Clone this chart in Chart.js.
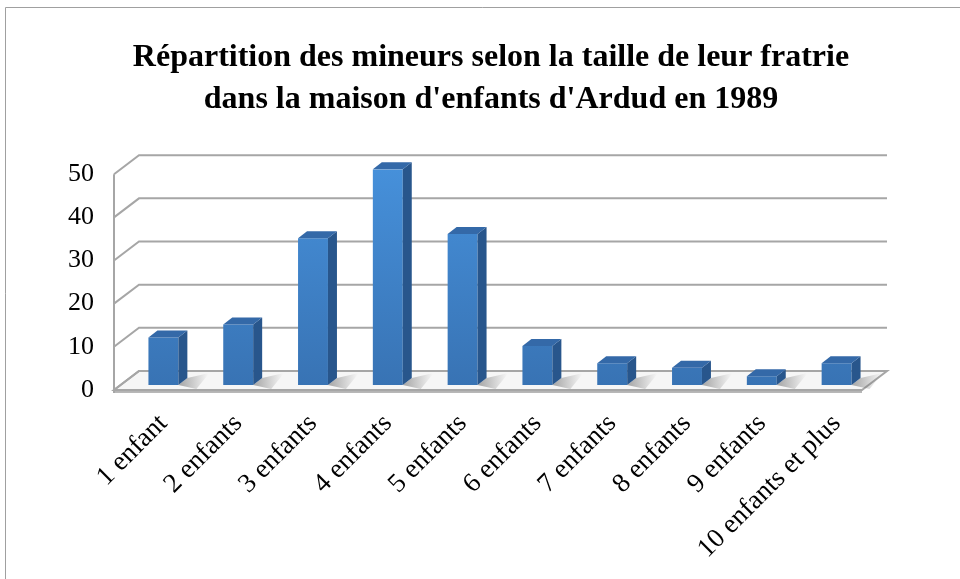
<!DOCTYPE html>
<html>
<head>
<meta charset="utf-8">
<script src="https://cdn.jsdelivr.net/npm/chart.js@4/dist/chart.umd.min.js"></script>
<style>
  html, body { margin: 0; padding: 0; background: #fff; }
  #wrap { width: 960px; height: 579px; }
</style>
</head>
<body>
<div id="wrap"><canvas id="myChart" width="960" height="579"></canvas></div>
<script>
const categories = ['1 enfant', '2 enfants', '3 enfants', '4 enfants', '5 enfants',
    '6 enfants', '7 enfants', '8 enfants', '9 enfants', '10 enfants et plus'];
const mineurs = [11, 14, 34, 50, 35, 9, 5, 4, 2, 5];
const yMax = 50;
const yStep = 10;
const titleLines = ["Répartition des mineurs selon la taille de leur fratrie",
    "dans la maison d'enfants d'Ardud en 1989"];

// offsets of the pseudo 3D planes relative to the bar plane
const FRONT = { dx: -12, dy: 5 };
const BACK = { dx: 13, dy: -14 };
const DEPTH = { dx: 9, dy: -7 };

const serif = "'Liberation Serif', 'Times New Roman', serif";

const wallsPlugin = {
    id: 'walls',
    beforeDraw(chart) {
        const c = chart.ctx;
        c.save();
        c.fillStyle = '#fff';
        c.fillRect(0, 0, chart.width, chart.height);
        c.strokeStyle = '#a0a0a0';
        c.lineWidth = 1;
        c.beginPath();
        c.moveTo(5.5, chart.height);
        c.lineTo(5.5, 7.5);
        c.lineTo(chart.width, 7.5);
        c.stroke();
        c.restore();
    },
    beforeDatasetsDraw(chart) {
        const c = chart.ctx;
        const a = chart.chartArea;
        const y = chart.scales.y;
        c.save();
        c.strokeStyle = '#a6a6a6';
        c.lineWidth = 2;

        // floor (thin slab)
        const y0 = y.getPixelForValue(0);
        c.fillStyle = '#b4b4b4';
        c.fillRect(a.left + FRONT.dx, y0 + FRONT.dy, a.right - a.left, 3);
        c.beginPath();
        c.moveTo(a.left + FRONT.dx, y0 + FRONT.dy);
        c.lineTo(a.right + FRONT.dx, y0 + FRONT.dy);
        c.lineTo(a.right + BACK.dx, y0 + BACK.dy);
        c.lineTo(a.left + BACK.dx, y0 + BACK.dy);
        c.closePath();
        c.fillStyle = '#f6f6f6';
        c.fill();
        c.stroke();

        // shadows on the floor
        const meta = chart.getDatasetMeta(0);
        meta.data.forEach(bar => {
            const xr = bar.x + bar.width / 2;
            const g = c.createLinearGradient(xr, 0, xr + 30, 0);
            g.addColorStop(0, 'rgba(110,110,110,0.6)');
            g.addColorStop(1, 'rgba(110,110,110,0)');
            c.fillStyle = g;
            c.beginPath();
            c.moveTo(xr, bar.base);
            c.lineTo(xr + DEPTH.dx, bar.base + DEPTH.dy);
            c.lineTo(xr + DEPTH.dx + 22, bar.base + BACK.dy + 2);
            c.lineTo(xr + 18, y0 + FRONT.dy - 1);
            c.closePath();
            c.fill();
        });

        // back wall gridlines and side wall diagonals
        for (let v = 0; v <= yMax; v += yStep) {
            const py = y.getPixelForValue(v);
            c.beginPath();
            c.moveTo(a.left + FRONT.dx, py + FRONT.dy);
            c.lineTo(a.left + BACK.dx, py + BACK.dy);
            c.lineTo(a.right + BACK.dx, py + BACK.dy);
            c.stroke();
        }
        c.beginPath();
        c.moveTo(a.left + FRONT.dx, y.getPixelForValue(yMax) + FRONT.dy);
        c.lineTo(a.left + FRONT.dx, y0 + FRONT.dy + 3);
        c.stroke();
        c.restore();
    },
    afterDatasetsDraw(chart) {
        const c = chart.ctx;
        const meta = chart.getDatasetMeta(0);
        c.save();
        meta.data.forEach(bar => {
            const xl = bar.x - bar.width / 2;
            const xr = bar.x + bar.width / 2;
            // side face
            c.fillStyle = '#28568c';
            c.beginPath();
            c.moveTo(xr, bar.y);
            c.lineTo(xr + DEPTH.dx, bar.y + DEPTH.dy);
            c.lineTo(xr + DEPTH.dx, bar.base + DEPTH.dy);
            c.lineTo(xr, bar.base);
            c.closePath();
            c.fill();
            // top face
            c.fillStyle = '#3469a8';
            c.beginPath();
            c.moveTo(xl, bar.y);
            c.lineTo(xl + DEPTH.dx, bar.y + DEPTH.dy);
            c.lineTo(xr + DEPTH.dx, bar.y + DEPTH.dy);
            c.lineTo(xr, bar.y);
            c.closePath();
            c.fill();
        });
        c.restore();
    }
};

function frontGradient(context) {
    const chart = context.chart;
    const a = chart.chartArea;
    if (!a) return '#3f84cc';
    const g = chart.ctx.createLinearGradient(0, a.top, 0, a.bottom);
    g.addColorStop(0, '#4690da');
    g.addColorStop(1, '#3873b4');
    return g;
}

const ctx = document.getElementById('myChart').getContext('2d');

const myChart = new Chart(ctx, {
    type: 'bar',
    data: {
        labels: categories,
        datasets: [{
            label: 'Mineurs',
            data: mineurs,
            backgroundColor: frontGradient,
            borderWidth: 0,
            categoryPercentage: 0.4,
            barPercentage: 1.0,
        }],
    },
    options: {
        responsive: false,
        animation: false,
        layout: { padding: { left: 66, right: 44, top: 0, bottom: 14 } },
        plugins: {
            legend: { display: false },
            tooltip: { enabled: false },
            title: {
                display: true,
                text: titleLines,
                color: '#000',
                font: { family: serif, size: 32, weight: 'bold', lineHeight: 1.3 },
                padding: { top: 37, bottom: 49 },
            },
        },
        scales: {
            x: {
                grid: { display: false, drawTicks: true, tickLength: 23 },
                border: { display: false },
                ticks: {
                    color: '#000',
                    font: { family: serif, size: 27 },
                    maxRotation: 45,
                    minRotation: 45,
                    autoSkip: false,
                    padding: 0,
                },
                afterFit(scale) {
                    scale.paddingLeft = 0;
                    scale.paddingRight = 86;
                },
            },
            y: {
                min: 0,
                max: yMax,
                grid: { display: false, drawTicks: false },
                border: { display: false },
                ticks: {
                    stepSize: yStep,
                    color: '#000',
                    font: { family: serif, size: 26 },
                    padding: 32,
                    labelOffset: 5,
                },
                afterFit(scale) {
                    scale.width = 60;
                },
            },
        },
    },
    plugins: [wallsPlugin],
});
</script>
</body>
</html>
